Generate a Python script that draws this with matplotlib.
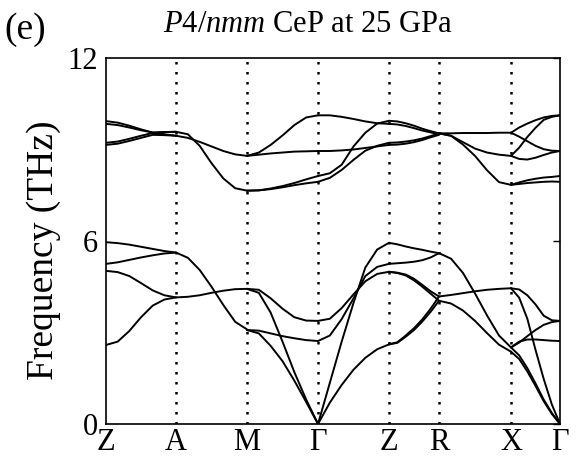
#!/usr/bin/env python
"""
Phonon dispersion of P4/nmm CeP at 25 GPa (panel e)
"""
import matplotlib
matplotlib.use('Agg')
import matplotlib.pyplot as plt


# high symmetry points and their path distance (arbitrary units)
K_LABELS = ['Z', 'A', 'M', 'Γ', 'Z', 'R', 'X', 'Γ']
K_POINTS = [0, 70, 141, 212, 283, 333, 405, 454]

# fraction along each segment where the frequencies were read
K_FRAC = [0, 1 / 6, 2 / 6, 3 / 6, 4 / 6, 5 / 6, 1]

# frequencies (THz) for each segment, one list per branch
ZA_BANDS = [
    [5.96, 5.93, 5.88, 5.81, 5.74, 5.67, 5.62],
    [5.25, 5.30, 5.38, 5.46, 5.53, 5.59, 5.62],
    [5.02, 4.98, 4.85, 4.62, 4.38, 4.22, 4.15],
    [2.59, 2.70, 3.05, 3.50, 3.88, 4.08, 4.15],
    [9.93, 9.88, 9.78, 9.66, 9.55, 9.50, 9.45],
    [9.84, 9.80, 9.72, 9.63, 9.56, 9.57, 9.58],
    [9.22, 9.26, 9.35, 9.45, 9.54, 9.57, 9.58],
    [9.15, 9.19, 9.28, 9.38, 9.48, 9.47, 9.45],
]

AM_BANDS = [
    [5.62, 5.45, 5.05, 4.50, 3.90, 3.35, 3.10],
    [4.15, 4.17, 4.22, 4.30, 4.37, 4.42, 4.43],
    [9.58, 9.50, 9.12, 8.55, 8.05, 7.73, 7.65],
    [9.45, 9.38, 9.25, 9.10, 8.95, 8.84, 8.79],
]

MG_BANDS = [
    [4.43, 4.40, 4.12, 3.78, 3.50, 3.39, 3.38],
    [4.43, 4.30, 3.65, 2.70, 1.70, 0.80, 0.00],
    [3.08, 3.06, 2.97, 2.88, 2.81, 2.75, 2.72],
    [3.08, 2.97, 2.56, 2.06, 1.42, 0.72, 0.00],
    [8.79, 8.90, 9.15, 9.46, 9.80, 10.05, 10.12],
    [8.79, 8.83, 8.87, 8.90, 8.93, 8.94, 8.95],
    [7.65, 7.66, 7.72, 7.80, 7.90, 8.02, 8.13],
    [7.65, 7.66, 7.70, 7.76, 7.83, 7.89, 7.94],
]

GZ_BANDS = [
    [0.00, 1.35, 2.70, 3.97, 5.13, 5.72, 5.94],
    [3.38, 3.45, 3.80, 4.25, 4.68, 4.92, 4.99],
    [2.72, 2.90, 3.44, 4.12, 4.85, 5.15, 5.25],
    [0.00, 0.70, 1.28, 1.78, 2.17, 2.45, 2.61],
    [10.12, 10.12, 10.07, 10.00, 9.92, 9.86, 9.84],
    [8.95, 8.95, 8.97, 9.00, 9.05, 9.10, 9.15],
    [8.13, 8.22, 8.50, 9.10, 9.55, 9.85, 9.94],
    [7.94, 8.07, 8.33, 8.66, 8.96, 9.12, 9.22],
]

ZR_BANDS = [
    [5.94, 5.89, 5.82, 5.76, 5.71, 5.65, 5.60],
    [5.25, 5.27, 5.29, 5.32, 5.37, 5.46, 5.60],
    [4.99, 4.96, 4.90, 4.76, 4.56, 4.35, 4.18],
    [4.99, 4.95, 4.87, 4.71, 4.50, 4.27, 4.04],
    [2.61, 2.68, 2.90, 3.14, 3.43, 3.78, 4.18],
    [2.61, 2.66, 2.86, 3.08, 3.36, 3.68, 4.04],
    [9.94, 9.92, 9.86, 9.78, 9.68, 9.60, 9.53],
    [9.84, 9.82, 9.77, 9.70, 9.62, 9.56, 9.50],
    [9.22, 9.23, 9.26, 9.30, 9.36, 9.44, 9.53],
    [9.15, 9.16, 9.19, 9.24, 9.31, 9.40, 9.48],
]

RX_BANDS = [
    [5.60, 5.42, 4.95, 4.28, 3.56, 2.90, 2.51],
    [4.18, 4.23, 4.29, 4.35, 4.40, 4.43, 4.45],
    [4.04, 3.95, 3.72, 3.38, 2.98, 2.60, 2.37],
    [9.53, 9.53, 9.54, 9.54, 9.54, 9.55, 9.55],
    [9.53, 9.45, 9.24, 9.03, 8.90, 8.83, 8.79],
    [9.53, 9.45, 9.16, 8.79, 8.32, 7.93, 7.84],
]

XG_BANDS = [
    [4.45, 4.41, 4.22, 3.92, 3.55, 3.40, 3.38],
    [4.45, 4.14, 3.45, 2.43, 1.48, 0.64, 0.00],
    [2.51, 2.67, 2.88, 3.08, 3.25, 3.34, 3.38],
    [2.51, 2.70, 2.77, 2.77, 2.75, 2.73, 2.72],
    [2.37, 2.13, 1.72, 1.25, 0.75, 0.33, 0.00],
    [2.51, 2.25, 1.83, 1.33, 0.80, 0.36, 0.00],
    [9.55, 9.72, 9.85, 9.96, 10.05, 10.10, 10.12],
    [9.55, 9.42, 9.27, 9.12, 9.01, 8.96, 8.95],
    [8.79, 9.06, 9.41, 9.71, 9.97, 10.07, 10.12],
    [8.79, 8.69, 8.67, 8.73, 8.82, 8.90, 8.95],
    [7.84, 7.92, 7.99, 8.04, 8.08, 8.10, 8.13],
    [7.84, 7.87, 7.90, 7.92, 7.94, 7.95, 7.94],
]

SEGMENT_BANDS = [ZA_BANDS, AM_BANDS, MG_BANDS, GZ_BANDS, ZR_BANDS, RX_BANDS, XG_BANDS]


def create_dispersion_plot(out_file):

    plt.rcParams['font.family'] = ['Liberation Serif', 'DejaVu Serif']
    plt.rcParams['mathtext.fontset'] = 'custom'
    plt.rcParams['mathtext.rm'] = 'Liberation Serif'
    plt.rcParams['mathtext.it'] = 'Liberation Serif:italic'

    fig = plt.figure(figsize=(5.79, 4.62), dpi=100)
    ax = fig.add_axes([0.1831, 0.0823, 0.7841, 0.7922])

    # draw every branch segment by segment
    for i, bands in enumerate(SEGMENT_BANDS):
        k0, k1 = K_POINTS[i], K_POINTS[i + 1]
        k = [k0 + f * (k1 - k0) for f in K_FRAC]
        for freq in bands:
            ax.plot(k, freq, color='black', linewidth=1.4,
                    solid_capstyle='round', solid_joinstyle='round')

    # dotted lines at the high symmetry points
    for kp in K_POINTS[1:-1]:
        ax.axvline(kp, color='black', linewidth=1.8, linestyle=(0, (1, 3)))

    ax.set_xlim(K_POINTS[0], K_POINTS[-1])
    ax.set_ylim(0, 12)
    ax.set_xticks(K_POINTS)
    ax.set_xticklabels(K_LABELS, fontsize=22)
    ax.set_yticks([0, 6, 12])
    ax.tick_params(axis='x', length=0, pad=3)
    ax.tick_params(axis='y', direction='in', left=False, right=True,
                   labelleft=True, length=5, width=1, labelsize=22, pad=6)
    for spine in ax.spines.values():
        spine.set_linewidth(1.2)

    fig.text(44 / 579, 1 - 250 / 462, 'Frequency (THz)', rotation=90,
             fontsize=27, ha='center', va='center')
    fig.text(308 / 579, 1 - 24 / 462, r'$\mathit{P}$4/$\mathit{nmm}$ CeP at 25 GPa',
             fontsize=22, ha='center', va='center')
    fig.text(4 / 579, 1 - 30 / 462, '(e)', fontsize=27, ha='left', va='center')

    fig.savefig(out_file, dpi=100)


def do_main():

    create_dispersion_plot(out_file='out.png')


if __name__ == '__main__':

    do_main()
